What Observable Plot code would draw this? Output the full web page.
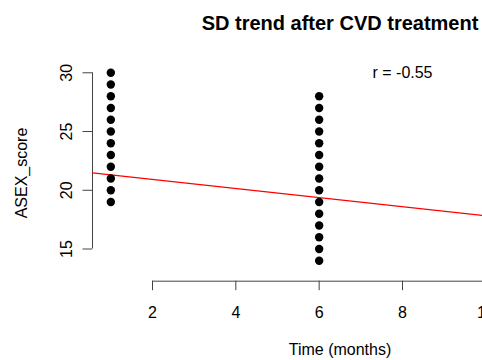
<!DOCTYPE html>
<html>
<head>
<meta charset="utf-8">
<script src="https://cdn.jsdelivr.net/npm/d3@7"></script>
<script src="https://cdn.jsdelivr.net/npm/@observablehq/plot@0.6"></script>
<style>
  html, body { margin: 0; padding: 0; background: #fff; overflow: hidden; }
  #chart { width: 482px; height: 360px; overflow: hidden; position: relative; }
  #chart svg { max-width: none !important; }
</style>
</head>
<body>
<div id="chart"></div>
<script>
// ---- data ----
const titleText = "SD trend after CVD treatment";
const xLabel = "Time (months)";
const yLabel = "ASEX_score";
const months = [1, 6];
const scoresMonth1 = [19, 20, 21, 22, 23, 24, 25, 26, 27, 28, 29, 30];
const scoresMonth6 = [14, 15, 16, 17, 18, 19, 20, 21, 22, 23, 24, 25, 26, 27, 28];
const xTicks = [2, 4, 6, 8, 10];
const yTicks = [15, 20, 25, 30];
const fitIntercept = [21.69];
const fitSlope = [-0.387];
const rLabel = ["r = -0.55"];
const rLabelPos = [8, 30];

// ---- build ----
const points = [
  ...scoresMonth1.map(s => ({time: months[0], score: s})),
  ...scoresMonth6.map(s => ({time: months[1], score: s}))
];
const xDomain = [0.56, 12.44];
const yDomain = [12.26, 30.68];
const fitLine = xDomain.map(t => ({time: t, score: fitIntercept[0] + fitSlope[0] * t}));

const font = "'Liberation Sans', Arial, Helvetica, sans-serif";

const chart = Plot.plot({
  width: 620,
  height: 360,
  marginLeft: 92,
  marginRight: 33,
  marginTop: 64.3,
  marginBottom: 79.3,
  style: {fontFamily: font, fontSize: "16px", background: "#fff", color: "black", maxWidth: "none"},
  x: {domain: xDomain, axis: null},
  y: {domain: yDomain, axis: null},
  marks: [
    Plot.ruleX([xDomain[0]], {y1: yTicks[0], y2: yTicks[yTicks.length - 1], stroke: "#444", strokeWidth: 1}),
    Plot.ruleY([yDomain[0]], {x1: xTicks[0], x2: xTicks[xTicks.length - 1], stroke: "#444", strokeWidth: 1}),
    Plot.axisY(yTicks, {anchor: "left", tickSize: 9.5, tickPadding: 11, tickRotate: -90, fontSize: 16, stroke: "#444", fill: "black", label: null, tickFormat: d => String(d)}),
    Plot.axisX(xTicks, {anchor: "bottom", tickSize: 9.5, tickPadding: 16, fontSize: 16, stroke: "#444", fill: "black", label: null, tickFormat: d => String(d)}),
    Plot.line(fitLine, {x: "time", y: "score", stroke: "#ff0000", strokeWidth: 1.2, clip: true}),
    Plot.dot(points, {x: "time", y: "score", r: 4.2, fill: "black", stroke: "none"}),
    Plot.text(rLabel, {x: rLabelPos[0], y: rLabelPos[1], text: d => d, fontSize: 16, fill: "black"}),
    Plot.text([titleText], {frameAnchor: "top", dy: -49.5, text: d => d, fontSize: 20, fontWeight: "bold", fill: "black"}),
    Plot.text([yLabel], {frameAnchor: "left", textAnchor: "middle", dx: -71, rotate: -90, text: d => d, fontSize: 16, fill: "black"}),
    Plot.text([xLabel], {frameAnchor: "bottom", dy: 74, text: d => d, fontSize: 16, fill: "black"})
  ]
});
document.getElementById("chart").appendChild(chart);
</script>
</body>
</html>
